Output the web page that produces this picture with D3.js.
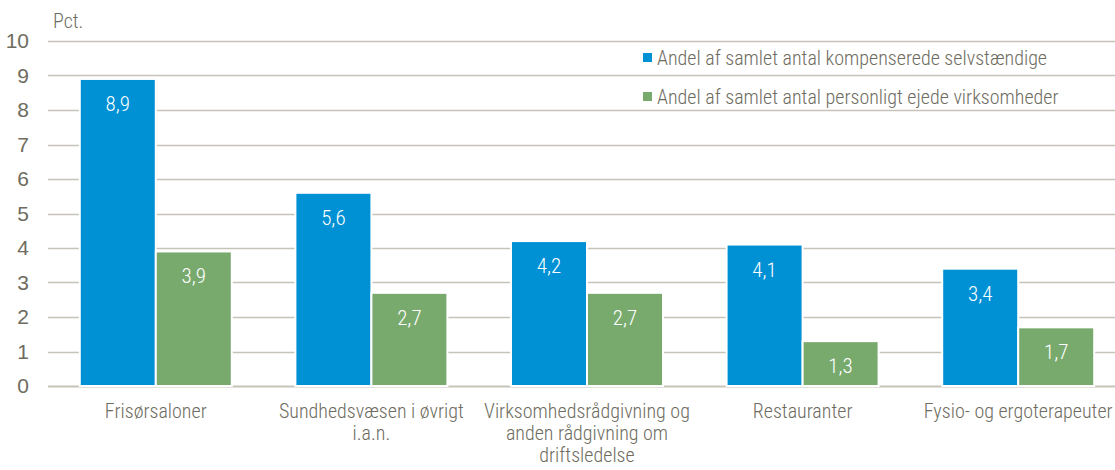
<!DOCTYPE html>
<html>
<head>
<meta charset="utf-8">
<script src="https://cdn.jsdelivr.net/npm/d3@7"></script>
<style>
  body { margin: 0; background: #fff; }
  svg { display: block; font-family: "Roboto Condensed", sans-serif; font-weight: 300; }
</style>
</head>
<body>
<div id="chart"></div>
<script>
const categories = [
  "Frisørsaloner",
  "Sundhedsvæsen i øvrigt\ni.a.n.",
  "Virksomhedsrådgivning og\nanden rådgivning om\ndriftsledelse",
  "Restauranter",
  "Fysio- og ergoterapeuter"
];
const seriesNames = [
  "Andel af samlet antal kompenserede selvstændige",
  "Andel af samlet antal personligt ejede virksomheder"
];
const kompenserede = [8.9, 5.6, 4.2, 4.1, 3.4];
const personligtEjede = [3.9, 2.7, 2.7, 1.3, 1.7];
const yTicks = [0, 1, 2, 3, 4, 5, 6, 7, 8, 9, 10];

const config = {
  width: 1115,
  height: 470,
  margin: { top: 41, right: -11, bottom: 84, left: 48 },
  colors: {
    text: "#6e6c60",
    grid: "#c6c4b8",
    series: ["#0090d4", "#78aa6e"]
  }
};

const width = config.width - config.margin.left - config.margin.right;
const height = config.height - config.margin.top - config.margin.bottom;

const svg = d3.select("#chart")
  .append("svg")
  .attr("width", config.width)
  .attr("height", config.height);

const g = svg.append("g")
  .attr("transform", `translate(${config.margin.left},${config.margin.top})`);

const x0 = d3.scaleBand()
  .domain(d3.range(categories.length))
  .range([0, width])
  .paddingInner(0.295)
  .paddingOuter(0.1475);

const x1 = d3.scaleBand()
  .domain([0, 1])
  .range([0, x0.bandwidth()]);

const y = d3.scaleLinear().domain([0, 10]).range([height, 0]);

// gridlines
g.append("g")
  .selectAll("line")
  .data(yTicks)
  .join("line")
  .attr("x1", 0)
  .attr("x2", config.width - config.margin.left)
  .attr("y1", d => Math.round(y(d)) + 0.5)
  .attr("y2", d => Math.round(y(d)) + 0.5)
  .attr("stroke", config.colors.grid)
  .attr("stroke-width", d => d === 0 ? 2 : 1.5);

// y axis labels
g.append("g")
  .call(d3.axisLeft(y).tickValues(yTicks).tickSize(0).tickPadding(19))
  .call(a => {
    a.select(".domain").remove();
    a.selectAll(".tick text")
      .attr("fill", config.colors.text)
      .style("font-size", "21px")
      .style("font-family", "inherit");
  });

g.append("text")
  .attr("x", 5)
  .attr("y", -13)
  .attr("fill", config.colors.text)
  .style("font-size", "20px")
  .text("Pct.");

// bars
const series = [kompenserede, personligtEjede];
const groups = g.append("g")
  .selectAll("g")
  .data(categories)
  .join("g")
  .attr("transform", (d, i) => `translate(${x0(i)},0)`);

groups.selectAll("rect")
  .data((d, i) => series.map((s, k) => ({ k, v: s[i] })))
  .join("rect")
  .attr("x", d => x1(d.k))
  .attr("y", d => y(d.v))
  .attr("width", x1.bandwidth())
  .attr("height", d => y(0) - y(d.v))
  .attr("fill", d => config.colors.series[d.k])
  .attr("stroke", "#fff")
  .attr("stroke-width", 2);

groups.selectAll("text.val")
  .data((d, i) => series.map((s, k) => ({ k, v: s[i] })))
  .join("text")
  .attr("class", "val")
  .attr("x", d => x1(d.k) + x1.bandwidth() / 2)
  .attr("y", d => y(d.v) + 32)
  .attr("text-anchor", "middle")
  .attr("fill", "#fff")
  .style("font-size", "21px")
  .text(d => d3.format(".1f")(d.v).replace(".", ","));

// x labels
const xl = g.append("g")
  .selectAll("text")
  .data(categories)
  .join("text")
  .attr("x", (d, i) => x0(i) + x0.bandwidth() / 2)
  .attr("y", height + 32)
  .attr("text-anchor", "middle")
  .attr("fill", config.colors.text)
  .style("font-size", "20px");

xl.selectAll("tspan")
  .data(d => d.split("\n"))
  .join("tspan")
  .attr("x", function () { return d3.select(this.parentNode).attr("x"); })
  .attr("dy", (d, i) => i === 0 ? 0 : 22)
  .text(d => d);

// legend
const legend = svg.append("g").attr("transform", "translate(643,0)");
const legendY = [58, 97];
seriesNames.forEach((name, i) => {
  legend.append("rect")
    .attr("x", 0)
    .attr("y", legendY[i] - 5)
    .attr("width", 9)
    .attr("height", 9)
    .attr("fill", config.colors.series[i]);
  legend.append("text")
    .attr("x", 14)
    .attr("y", legendY[i] + 7)
    .attr("fill", config.colors.text)
    .style("font-size", "20px")
    .text(name);
});
</script>
</body>
</html>
